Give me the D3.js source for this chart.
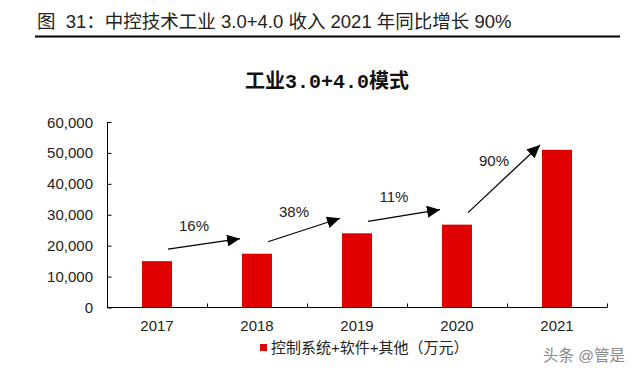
<!DOCTYPE html>
<html>
<head>
<meta charset="utf-8">
<script src="https://cdn.jsdelivr.net/npm/d3@7/dist/d3.min.js"></script>
<style>
  html, body { margin: 0; padding: 0; background: #fff; }
  svg { display: block; }
  text { font-family: "Liberation Sans", Arial, "Noto Sans CJK SC", sans-serif; }
</style>
</head>
<body>
<div id="chart"></div>
<script>
var years = ['2017', '2018', '2019', '2020', '2021'];
var revenue = [15000, 17400, 24000, 26800, 51000];
var growth = ['16%', '38%', '11%', '90%'];
var yTicks = [0, 10000, 20000, 30000, 40000, 50000, 60000];
var figTitle = '图  31：中控技术工业 3.0+4.0 收入 2021 年同比增长 90%';
var seriesName = '控制系统+软件+其他（万元）';

var W = 640, H = 375;
var m = {left: 107, right: 33, top: 122, bottom: 67};
var red = '#e00000';

var svg = d3.select('#chart').append('svg')
    .attr('width', W)
    .attr('height', H);

// figure caption + rule
svg.append('text')
    .attr('x', 37)
    .attr('y', 28)
    .attr('font-size', 18.5)
    .attr('fill', '#222')
    .style('white-space', 'pre')
    .attr('font-family', '"Liberation Sans", "Noto Sans CJK SC", sans-serif')
    .text(figTitle);
svg.append('line')
    .attr('x1', 35).attr('x2', 620)
    .attr('y1', 36.5).attr('y2', 36.5)
    .attr('stroke', '#000')
    .attr('stroke-width', 2);

// chart title, cjk + mono digits
var t = svg.append('text')
    .attr('x', 327)
    .attr('y', 88)
    .attr('text-anchor', 'middle')
    .attr('font-size', 20)
    .attr('font-weight', 'bold')
    .attr('fill', '#111');
t.append('tspan').attr('font-family', '"Noto Sans CJK SC"').text('工业');
t.append('tspan').attr('font-family', '"Liberation Mono", monospace').text('3.0+4.0');
t.append('tspan').attr('font-family', '"Noto Sans CJK SC"').text('模式');

var x = d3.scaleBand()
    .domain(years)
    .range([m.left, W - m.right])
    .paddingInner(0.7)
    .paddingOuter(0.35);
var y = d3.scaleLinear()
    .domain([0, 60000])
    .range([H - m.bottom - 0.5, m.top]);

var bw = x.bandwidth();

// bars
svg.append('g').selectAll('rect')
    .data(revenue)
    .enter().append('rect')
    .attr('x', function (d, i) { return x(years[i]); })
    .attr('y', function (d) { return y(d); })
    .attr('width', bw)
    .attr('height', function (d) { return y(0) - y(d); })
    .attr('fill', red);

// y axis
var gy = svg.append('g')
    .attr('transform', 'translate(' + (m.left + 0.5) + ',0)')
    .call(d3.axisRight(y).tickValues(yTicks).tickSize(4).tickFormat(''));
gy.select('.domain').attr('d', 'M0,' + y(60000) + 'V' + y(0)).attr('stroke', '#000');
gy.selectAll('.tick line').attr('stroke', '#000');
svg.append('g').selectAll('text')
    .data(yTicks)
    .enter().append('text')
    .attr('x', 93)
    .attr('y', function (d) { return y(d) + 5.5; })
    .attr('text-anchor', 'end')
    .attr('font-size', 15)
    .attr('fill', '#222')
    .text(d3.format(','));

// x axis: boundary ticks pointing up, labels at centres
var step = x.step();
var bounds = years.map(function (d) { return x(d) + bw / 2 + step / 2; });
var gx = svg.append('g').attr('transform', 'translate(0,' + y(0) + ')');
gx.append('line')
    .attr('x1', m.left).attr('x2', W - m.right)
    .attr('stroke', '#000');
gx.selectAll('.bt')
    .data(bounds)
    .enter().append('line')
    .attr('class', 'bt')
    .attr('x1', function (d) { return Math.round(d) + 0.5; })
    .attr('x2', function (d) { return Math.round(d) + 0.5; })
    .attr('y1', 0).attr('y2', -4)
    .attr('stroke', '#000');
gx.selectAll('text')
    .data(years)
    .enter().append('text')
    .attr('x', function (d) { return x(d) + bw / 2; })
    .attr('y', 23)
    .attr('text-anchor', 'middle')
    .attr('font-size', 15)
    .attr('fill', '#222')
    .text(function (d) { return d; });

// growth arrows
svg.append('defs').append('marker')
    .attr('id', 'head')
    .attr('markerUnits', 'userSpaceOnUse')
    .attr('viewBox', '0 0 13 12')
    .attr('refX', 13).attr('refY', 6)
    .attr('markerWidth', 13).attr('markerHeight', 12)
    .attr('orient', 'auto')
    .append('path')
    .attr('d', 'M0,0L13,6L0,12Z')
    .attr('fill', '#000');

var arrows = growth.map(function (g, i) {
    var x1 = x(years[i]) + bw / 2 + 11,
        y1 = y(revenue[i]) - 12,
        x2 = x(years[i + 1]) + bw / 2 - 17,
        y2 = Math.max(y(revenue[i + 1]) - 15, m.top + 23);
    return {label: g, x1: x1, y1: y1, x2: x2, y2: y2};
});
var ga = svg.append('g');
ga.selectAll('line')
    .data(arrows)
    .enter().append('line')
    .attr('x1', function (d) { return d.x1; })
    .attr('y1', function (d) { return d.y1; })
    .attr('x2', function (d) { return d.x2; })
    .attr('y2', function (d) { return d.y2; })
    .attr('stroke', '#000')
    .attr('stroke-width', 1.2)
    .attr('marker-end', 'url(#head)');
ga.selectAll('text')
    .data(arrows)
    .enter().append('text')
    .attr('x', function (d) { return (d.x1 + d.x2) / 2 - 10; })
    .attr('y', function (d) { return (d.y1 + d.y2) / 2 - 13; })
    .attr('text-anchor', 'middle')
    .attr('font-size', 15)
    .attr('fill', '#222')
    .text(function (d) { return d.label; });

// legend
var lg = svg.append('g').attr('transform', 'translate(260,344)');
lg.append('rect')
    .attr('width', 7).attr('height', 7)
    .attr('fill', red);
lg.append('text')
    .attr('x', 11)
    .attr('y', 8.5)
    .attr('font-size', 15)
    .attr('fill', '#222')
    .attr('font-family', '"Noto Sans CJK SC", sans-serif')
    .text(seriesName);

// watermark
svg.append('text')
    .attr('x', 543)
    .attr('y', 361)
    .attr('font-size', 15.5)
    .attr('fill', '#8a8a8a')
    .attr('font-family', '"Noto Sans CJK SC", sans-serif')
    .text('头条 @管是');
</script>
</body>
</html>
